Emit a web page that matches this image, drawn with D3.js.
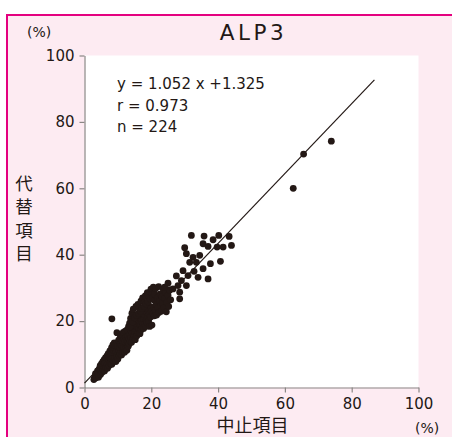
<!DOCTYPE html>
<html>
<head>
<meta charset="utf-8">
<script src="https://cdn.jsdelivr.net/npm/d3@7"></script>
<style>
  body { margin: 0; background: #fff; }
  svg { display: block; }
</style>
</head>
<body>
<div id="chart"></div>
<script>
// chart data
const title = "ALP3";
const xLabel = "中止項目";
const yLabel = ["代", "替", "項", "目"];
const unitLabel = "(%)";
const xTicks = [0, 20, 40, 60, 80, 100];
const yTicks = [0, 20, 40, 60, 80, 100];
const statLines = ["y = 1.052 x +1.325", "r = 0.973", "n = 224"];
const slope = 1.052;
const intercept = 1.325;
const fitRange = [0, 86.8];

// [中止項目, 代替項目]
const points = [
  [2.8, 2.4], [3.0, 3.0], [3.3, 4.2], [3.5, 2.9], [3.9, 5.0], [4.1, 4.0], [4.2, 3.1],
  [4.4, 5.6], [4.7, 6.6], [4.8, 3.9], [5.0, 5.2], [5.1, 7.2], [5.3, 4.6], [5.4, 6.0],
  [5.5, 7.8], [5.6, 5.4], [5.9, 8.4], [6.0, 5.0], [6.1, 7.2], [6.3, 9.0], [6.4, 6.0],
  [6.7, 6.8], [6.8, 9.6], [6.9, 5.8], [7.1, 10.2], [7.3, 8.4], [7.4, 6.6],
  [7.5, 9.2], [7.6, 11.0], [7.8, 7.4], [7.9, 10.0],
  [8.0, 8.6], [8.1, 12.0], [8.2, 7.0], [8.3, 10.6], [8.5, 12.8], [8.6, 8.0], [8.7, 11.2],
  [8.9, 13.4], [9.0, 8.8], [9.1, 11.8], [9.3, 12.6], [9.4, 7.8], [9.5, 10.8],
  [9.6, 13.2], [9.7, 9.2], [9.9, 12.4], [10.0, 8.6], [10.1, 10.4], [10.2, 14.2], [10.3, 11.0],
  [10.4, 9.6],
  [10.5, 12.2], [10.6, 14.8], [10.7, 10.2], [10.8, 13.0], [11.0, 15.4], [11.1, 9.8], [11.2, 12.6],
  [11.3, 14.0], [11.4, 10.8], [11.6, 16.6], [11.7, 11.8], [11.8, 14.6], [12.0, 10.6],
  [12.1, 13.8], [12.2, 17.0], [12.3, 11.6], [12.4, 15.2], [12.6, 14.2], [12.7, 11.2], [12.8, 17.4],
  [12.9, 13.6],
  [13.0, 15.4], [13.1, 12.4], [13.2, 18.4], [13.3, 14.6], [13.4, 13.2], [13.5, 19.4], [13.6, 16.0], [13.7, 14.0],
  [13.8, 20.8], [13.9, 15.2], [14.0, 17.0], [14.1, 13.6], [14.2, 22.4], [14.3, 16.4], [14.4, 18.0], [14.5, 14.6],
  [14.6, 23.6], [14.7, 17.6], [14.8, 15.8], [14.9, 19.2], [15.0, 16.8], [15.1, 20.2], [15.2, 14.4], [15.3, 18.4],
  [15.4, 24.4],
  [15.5, 17.2], [15.6, 19.6], [15.7, 15.6], [15.8, 21.2], [15.9, 18.2], [16.0, 25.0], [16.1, 16.6], [16.2, 20.4],
  [16.3, 17.8], [16.4, 24.0], [16.5, 19.0], [16.6, 16.2], [16.7, 21.0], [16.8, 18.6], [16.9, 26.0], [17.0, 17.4],
  [17.1, 20.0], [17.2, 24.0], [17.3, 18.2], [17.4, 27.0], [17.5, 19.4], [17.6, 21.6], [17.7, 17.8], [17.8, 20.6],
  [17.9, 25.6],
  [18.0, 19.0], [18.1, 21.8], [18.2, 27.6], [18.3, 18.4], [18.4, 22.8], [18.5, 20.2], [18.6, 24.0], [18.7, 19.6],
  [18.8, 28.6], [18.9, 21.4], [19.0, 23.4], [19.2, 20.0], [19.3, 27.0], [19.4, 22.0], [19.5, 18.4], [19.6, 24.4],
  [19.8, 21.2], [19.9, 29.6], [20.0, 23.0], [20.2, 18.8], [20.3, 28.0], [20.5, 22.4], [20.6, 30.2], [20.8, 24.2],
  [20.9, 21.6],
  [13.6, 18.2], [14.4, 19.8], [15.0, 21.0], [15.6, 21.8], [16.2, 22.4], [16.8, 23.0], [17.3, 23.8],
  [17.9, 24.4], [18.4, 25.2], [19.0, 25.8], [19.7, 26.6], [20.4, 27.0], [21.0, 28.2],
  [21.0, 26.2], [21.2, 23.2], [21.3, 29.8], [21.5, 25.0], [21.6, 21.8], [21.8, 27.0], [22.0, 24.0], [22.2, 30.4],
  [22.3, 22.6], [22.5, 26.0], [22.7, 28.2], [22.8, 24.6], [23.0, 23.0], [23.2, 27.4], [23.4, 25.4], [23.6, 29.6],
  [23.8, 24.0], [24.0, 26.8], [24.3, 28.6], [24.5, 22.8], [24.7, 25.6], [25.0, 27.8], [25.2, 24.4], [25.5, 29.4],
  [25.8, 26.4],
  [25.0, 31.4], [26.5, 29.7], [28.5, 28.7], [28.5, 26.7], [28.0, 30.7], [30.5, 30.7], [29.0, 32.2], [31.0, 33.7],
  [34.0, 33.2], [37.0, 32.7], [29.5, 35.2], [35.5, 35.8], [31.5, 37.7], [33.5, 37.7], [37.7, 37.3], [40.7, 38.0],
  [30.5, 40.3], [32.5, 39.2], [34.5, 39.8], [30.0, 42.1], [35.5, 43.3], [37.0, 42.5], [39.7, 42.3], [41.5, 42.3],
  [44.0, 42.8], [38.5, 44.5], [32.0, 45.8], [35.8, 45.6], [40.2, 45.8], [43.3, 45.5],
  [27.5, 33.6], [32.8, 35.0], [24.0, 30.2],
  [8.2, 20.7], [9.7, 16.5], [62.5, 60.0], [65.6, 70.3], [73.9, 74.2]
];

const ink = "#231815";
const latin = "'DejaVu Sans', sans-serif";
const cjk = "'Noto Sans CJK JP', sans-serif";

const W = 452, H = 437;

const svg = d3.select("#chart")
  .append("svg")
  .attr("width", W)
  .attr("height", H);

// pink panel with magenta frame (right and bottom run off the picture)
svg.append("rect")
  .attr("x", 7).attr("y", 15)
  .attr("width", W + 10).attr("height", H + 10)
  .attr("fill", "#fdebf2")
  .attr("stroke", "#e4007f")
  .attr("stroke-width", 2);

const x = d3.scaleLinear().domain([0, 100]).range([84.5, 418.5]);
const y = d3.scaleLinear().domain([0, 100]).range([387.5, 55.5]);

// white plot area
svg.append("rect")
  .attr("x", x(0)).attr("y", y(100))
  .attr("width", x(100) - x(0)).attr("height", y(0) - y(100))
  .attr("fill", "#fff");

// axes
const xAxis = svg.append("g")
  .attr("transform", `translate(0,${y(0)})`)
  .call(d3.axisBottom(x).tickValues(xTicks).tickSize(5).tickSizeOuter(0).tickPadding(6));
const yAxis = svg.append("g")
  .attr("transform", `translate(${x(0)},0)`)
  .call(d3.axisLeft(y).tickValues(yTicks).tickSize(5).tickSizeOuter(0).tickPadding(5));

[xAxis, yAxis].forEach(g => {
  g.select(".domain").attr("stroke", "#8a8785").attr("stroke-width", 1.2);
  g.selectAll(".tick line").attr("stroke", "#8a8785").attr("stroke-width", 1.2);
  g.selectAll(".tick text")
    .attr("fill", ink)
    .style("font-family", latin)
    .style("font-size", "15px");
});

// regression line
svg.append("line")
  .attr("x1", x(fitRange[0])).attr("y1", y(slope * fitRange[0] + intercept))
  .attr("x2", x(fitRange[1])).attr("y2", y(slope * fitRange[1] + intercept))
  .attr("stroke", ink)
  .attr("stroke-width", 1.2);

// points
svg.append("g")
  .selectAll("circle")
  .data(points)
  .join("circle")
  .attr("cx", d => x(d[0]))
  .attr("cy", d => y(d[1]))
  .attr("r", 3.4)
  .attr("fill", ink);

// title
svg.append("text")
  .attr("x", 253.5).attr("y", 39.5)
  .attr("text-anchor", "middle")
  .style("font-family", latin)
  .style("font-size", "21.5px")
  .style("letter-spacing", "3.5px")
  .attr("fill", ink)
  .text(title);

// regression stats
svg.append("g")
  .selectAll("text")
  .data(statLines)
  .join("text")
  .attr("x", 117)
  .attr("y", (d, i) => 89 + i * 21.5)
  .style("font-family", latin)
  .style("font-size", "15px")
  .attr("fill", ink)
  .text(d => d);

// unit labels
svg.append("text")
  .attr("x", 27).attr("y", 37)
  .style("font-family", latin)
  .style("font-size", "14px")
  .attr("fill", ink)
  .text(unitLabel);
svg.append("text")
  .attr("x", 415).attr("y", 433)
  .style("font-family", latin)
  .style("font-size", "14px")
  .attr("fill", ink)
  .text(unitLabel);

// axis titles
svg.append("text")
  .attr("x", (x(0) + x(100)) / 2 + 1).attr("y", 432)
  .attr("text-anchor", "middle")
  .style("font-family", cjk)
  .style("font-size", "18px")
  .attr("fill", ink)
  .text(xLabel);

svg.append("g")
  .selectAll("text")
  .data(yLabel)
  .join("text")
  .attr("x", 24)
  .attr("y", (d, i) => 190 + i * 23.4)
  .attr("text-anchor", "middle")
  .style("font-family", cjk)
  .style("font-size", "17.5px")
  .attr("fill", ink)
  .text(d => d);
</script>
</body>
</html>
